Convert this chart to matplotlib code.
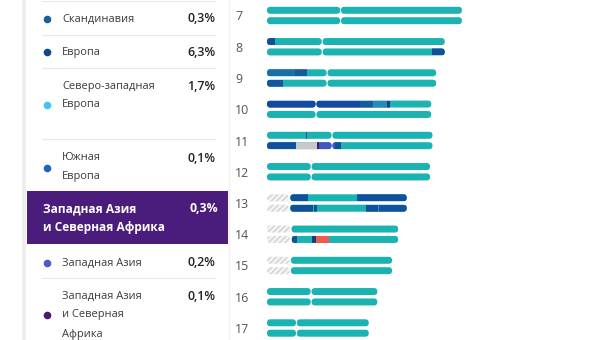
import matplotlib
matplotlib.use("Agg")
import matplotlib.pyplot as plt
from matplotlib.patches import FancyBboxPatch, Rectangle

plt.rcParams["font.family"] = ["Open Sans", "DejaVu Sans"]

# legend list (left card)
region_names = ["Скандинавия", "Европа", "Северо-западная\nЕвропа", "Южная\nЕвропа",
                "Западная Азия\nи Северная Африка", "Западная Азия",
                "Западная Азия\nи Северная\nАфрика"]
region_share = [0.3, 6.3, 1.7, 0.1, 0.3, 0.2, 0.1]
region_colors = ["#1a5f9c", "#0f4a87", "#3ec6ee", "#1a66c8", None, "#4a5cc8", "#4b1a6e"]
region_header = [False, False, False, False, True, False, False]

# chromosomes (Mb)
chrom_labels = ["7", "8", "9", "10", "11", "12", "13", "14", "15", "16", "17"]
chrom_length = [159, 145, 138, 134, 135, 133, 114, 107, 102, 90, 83]
chrom_centro = [60, 45, 49, 40, 53, 36, None, None, None, 36, 24]
chrom_pstart = [0, 0, 0, 0, 0, 0, 19, 20, 19.5, 0, 0]   # acrocentric: hatched p-arm

BASE = "#1bb3b1"
# painted segments: (chromosome, homolog 0=top/1=bottom, start, end, colour)
segments = [
    ("8", 0, 0, 6.5, "#12519a"),
    ("8", 1, 134.6, 145, "#12519a"),
    ("9", 0, 0, 23, "#1c6ea6"),
    ("9", 0, 23, 32.6, "#145a9c"),
    ("9", 1, 0, 13, "#1455a0"),
    ("10", 0, 0, 75.8, "#1747a0"),
    ("10", 0, 75.8, 86.5, "#1a5a9a"),
    ("10", 0, 86.5, 97.9, "#2a8ab5"),
    ("10", 0, 97.9, 100.3, "#0d3f8a"),
    ("11", 0, 32.2, 33.0, "#12519a"),
    ("11", 1, 0, 23.7, "#12519a"),
    ("11", 1, 23.7, 40.8, "#c9c9cc"),
    ("11", 1, 40.8, 42.4, "#4b1a6e"),
    ("11", 1, 42.4, 55.5, "#4a52c0"),
    ("11", 1, 55.5, 60.4, "#12519a"),
    ("13", 0, 19, 33.4, "#12519a"),
    ("13", 0, 73.4, 114, "#12519a"),
    ("13", 1, 19, 37.5, "#12519a"),
    ("13", 1, 38.3, 40.8, "#12519a"),
    ("13", 1, 80.7, 90.5, "#12519a"),
    ("13", 1, 90.5, 91.2, "#3a8fc0"),
    ("13", 1, 91.2, 114, "#1451a0"),
    ("14", 1, 20, 24.5, "#12519a"),
    ("14", 1, 36.7, 39.9, "#123f7e"),
    ("14", 1, 39.9, 50.6, "#f05a4a"),
]

fig = plt.figure(figsize=(6, 3.4), dpi=100)

# ---- left card, pixel coordinates
card = fig.add_axes([0, 0, 1, 1])
card.set_xlim(0, 600)
card.set_ylim(340, 0)
card.axis("off")
card.add_patch(Rectangle((22, 0), 4, 340, color="#eeeeee", lw=0))
card.plot([229, 229], [0, 340], color="#f1f1f1", lw=1)

row_top = [19, 52, 86, 158, 209, 263, 296]
line_h = 19
dot_line = [0, 0, 1, 0.5, 0, 0, 1]
for y in [1, 35, 68, 139, 278]:
    card.plot([42, 215], [y, y], color="#e8e8e8", lw=0.8)

for name, share, col, head, y, dl in zip(region_names, region_share, region_colors,
                                         region_header, row_top, dot_line):
    val = f"{share:.1f}%".replace(".", ",")
    lines = name.split("\n")
    if head:
        card.add_patch(Rectangle((27, 191), 201, 53, color="#4a1c7c", lw=0))
        for k, ln in enumerate(lines):
            card.text(43, y + k * line_h, ln, color="white", fontsize=8.6,
                      fontweight="bold", va="center")
        card.text(218, y, val, color="white", fontsize=8.8, fontweight="bold",
                  va="center", ha="right")
        continue
    for k, ln in enumerate(lines):
        card.text(62, y + k * line_h, ln, color="#3a3a3a", fontsize=7.9, va="center")
    card.plot(47, y + dl * line_h, "o", ms=5.5, color=col, mec="none")
    card.text(215, y, val, color="#222222", fontsize=8.9, fontweight="semibold",
              va="center", ha="right")

# ---- chromosomes
PX_PER_MB = 1.226
ROW_PX = 31.25
ax = fig.add_axes([267 / 600, 0, 333 / 600, 1])
ax.set_xlim(0, 333 / PX_PER_MB)
ax.set_ylim((340 - 15.5) / ROW_PX, -15.5 / ROW_PX)
ax.set_facecolor("none")
for s in ax.spines.values():
    s.set_visible(False)
ax.set_xticks([])
ax.set_yticks(range(len(chrom_labels)))
ax.set_yticklabels(chrom_labels, fontsize=8.9, color="#555555", ha="left")
ax.tick_params(axis="y", length=0, pad=23)

asp = PX_PER_MB / ROW_PX
bar_h = 7 / ROW_PX
off = 5.2 / ROW_PX
rad = 3.4 / PX_PER_MB


def arm(x0, x1, yc, **kw):
    p = FancyBboxPatch((x0, yc - bar_h / 2), x1 - x0, bar_h,
                       boxstyle=f"round,pad=0,rounding_size={rad}",
                       mutation_aspect=asp, **kw)
    ax.add_patch(p)
    return p


for i, (lab, L, cen, ps) in enumerate(zip(chrom_labels, chrom_length, chrom_centro, chrom_pstart)):
    for h, sign in enumerate([-1, 1]):
        yc = i + sign * off
        shapes = []
        if ps > 0:
            arm(0, ps - 1.2, yc, facecolor="#f4f4f4", edgecolor="#d2d2d2",
                lw=0, hatch="//////")
            shapes.append(arm(ps, L, yc, facecolor=BASE, lw=0))
        else:
            shapes.append(arm(0, cen - 0.35, yc, facecolor=BASE, lw=0))
            shapes.append(arm(cen + 0.35, L, yc, facecolor=BASE, lw=0))
        for c, hh, a, b, col in segments:
            if c != lab or hh != h:
                continue
            for shp in shapes:
                r = Rectangle((a, yc - bar_h / 2), b - a, bar_h, color=col, lw=0)
                ax.add_patch(r)
                r.set_clip_path(shp)

fig.savefig("out.png", dpi=100)
